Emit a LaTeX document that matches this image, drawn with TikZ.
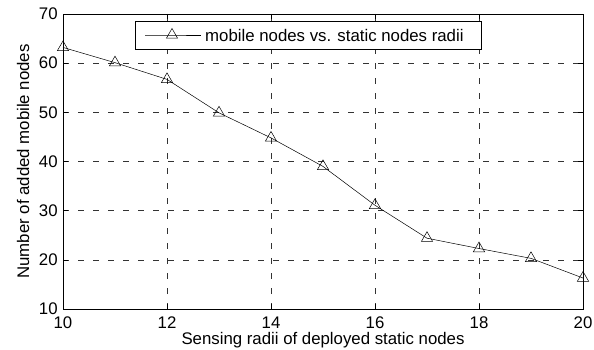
\documentclass[tikz,border=0pt]{standalone}
\usepackage{fontspec}
\setmainfont{Liberation Sans}
\usetikzlibrary{shapes.geometric}
\begin{document}
\begin{tikzpicture}[x=1pt,y=1pt,
  frame/.style={line width=0.8pt},
  gridline/.style={black!80, line width=0.5pt, dash pattern=on 6pt off 9pt},
  tickmark/.style={line width=0.5pt},
  marker/.style={draw, regular polygon, regular polygon sides=3,
    minimum size=13pt, inner sep=0pt, line width=0.5pt},
  series/.style={line width=0.5pt},
  lab/.style={font=\fontsize{16.8}{17}\selectfont, inner sep=0pt},
  ]
\useasboundingbox (0,0) rectangle (594,350);

% data coordinates: x in [10,20], y in [10,70]
\begin{scope}[shift={(-457pt,-8.17pt)}, x=52pt, y=4.9167pt]
  % dashed grid
  \foreach \gx in {12,14,16,18}
    \draw[gridline] (\gx,10) -- (\gx,70);
  \foreach \gy in {20,30,...,60}
    \draw[gridline] (10,\gy) -- (20,\gy);
  % tick marks on all four sides
  \foreach \gx in {12,14,16,18} {
    \draw[tickmark] (\gx,10) -- ++(0pt,5pt);
    \draw[tickmark] (\gx,70) -- ++(0pt,-5pt);
  }
  \foreach \gy in {20,30,...,60} {
    \draw[tickmark] (10,\gy) -- ++(5pt,0pt);
    \draw[tickmark] (20,\gy) -- ++(-5pt,0pt);
  }
  % axes box
  \draw[frame] (10,10) rectangle (20,70);
  % tick labels
  \foreach \gx in {10,12,...,20}
    \node[lab, anchor=base] (xl\gx) at (\gx,10) [yshift=-19pt] {\gx};
  \foreach \gy in {10,20,...,70}
    \node[lab, anchor=east] (yl\gy) at (9.9,\gy) {\gy};
  % series
  \foreach \i/\px/\py in {1/10/63.2, 2/11/60.1, 3/12/56.7, 4/13/49.9,
      5/14/44.8, 6/15/39.0, 7/16/31.1, 8/17/24.4, 9/18/22.3,
      10/19/20.3, 11/20/16.3}
    \node[marker] (p\i) at (\px,\py) {};
  \foreach \i [evaluate=\i as \j using int(\i+1)] in {1,...,10}
    \draw[series] (p\i.center) -- (p\j.center);
\end{scope}

% axis titles
\node[lab, anchor=base] (xtitle) at (323,5) {Sensing radii of deployed static nodes};
\node[lab, rotate=90] (ytitle) at (23,188.5) {Number of added mobile nodes};

% legend
\node[draw, fill=white, line width=0.8pt, minimum width=346pt,
  minimum height=27.6pt, inner sep=0pt] (legend) at (308,314.5) {};
\coordinate (la) at (145,315);
\coordinate (lb) at (201,315);
\node[marker, fill=white] (lm) at (172,315) {};
\draw[series] (la) -- (lm.center) -- (lb);
\node[lab, anchor=west] (ltext) at (205,314.5) {mobile nodes vs. static nodes radii};
\end{tikzpicture}
\end{document}
